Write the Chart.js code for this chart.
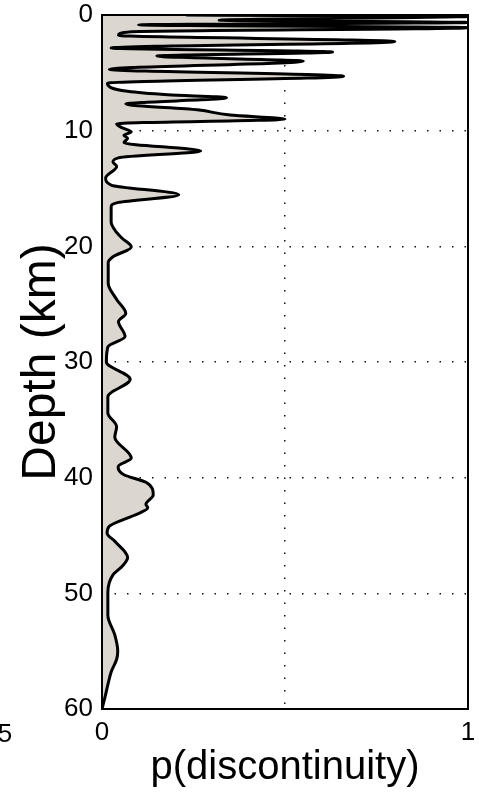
<!DOCTYPE html>
<html>
<head>
<meta charset="utf-8">
<script src="https://cdn.jsdelivr.net/npm/chart.js@4/dist/chart.umd.min.js"></script>
<style>
  html, body { margin: 0; padding: 0; background: #fff; }
  canvas { display: block; }
</style>
</head>
<body>
<canvas id="profile" width="479" height="797"></canvas>
<script>
// depth (km) down the profile, and probability of a discontinuity at each depth
const depthKm = [
  0, 0.12, 0.45, 0.65, 0.85, 1.1, 1.45, 1.75, 2.3, 2.85,
  3.2, 3.55, 4.0, 4.7, 5.3, 5.9, 6.6, 6.9, 7.15, 7.7,
  8.2, 8.65, 9.0, 9.4, 9.75, 10.1, 10.4, 10.65, 11.05, 11.75,
  12.35, 12.7, 13.1, 14.1, 14.7, 15.55, 16.2, 16.6, 17.9, 18.8,
  19.3, 20.05, 20.9, 21.4, 23.2, 24.6, 25.8, 26.5, 27.8, 28.7,
  30.0, 31.5, 33.0, 34.4, 35.6, 36.5, 38.3, 39.05, 39.75, 40.4,
  41.5, 42.3, 42.6, 43.1, 43.6, 44.2, 44.8, 45.5, 46.9, 47.6,
  48.4, 49.9, 51.9, 53.6, 55.0, 55.7, 56.8, 57.9, 59.0, 60
];
const pDisc = [
  0.23, 1.0, 0.32, 1.0, 0.10, 1.0, 0.08, 0.045, 0.80, 0.025,
  0.63, 0.15, 0.55, 0.02, 0.66, 0.015, 0.07, 0.18, 0.34, 0.065,
  0.26, 0.35, 0.50, 0.04, 0.055, 0.08, 0.06, 0.07, 0.06, 0.27,
  0.045, 0.03, 0.04, 0.01, 0.025, 0.21, 0.045, 0.025, 0.025, 0.04,
  0.055, 0.08, 0.03, 0.017, 0.017, 0.04, 0.065, 0.045, 0.063, 0.016,
  0.012, 0.077, 0.016, 0.016, 0.04, 0.035, 0.08, 0.044, 0.06, 0.12,
  0.14, 0.12, 0.125, 0.10, 0.06, 0.02, 0.014, 0.035, 0.07, 0.057,
  0.03, 0.016, 0.016, 0.035, 0.043, 0.04, 0.025, 0.016, 0.008, 0
];
const depthTicks = [0, 10, 20, 30, 40, 50, 60];
const pTicks = [0, 0.5, 1];
const pTickLabels = { 0: "0", 1: "1" };

const FONT = "'Liberation Sans', Arial, Helvetica, sans-serif";

// box round the plot + the clipped "5" left over from the panel next door
const framePlugin = {
  id: "frame",
  afterDraw(chart) {
    const { ctx, chartArea: a } = chart;
    ctx.save();
    ctx.strokeStyle = "#000";
    ctx.lineWidth = 2;
    ctx.strokeRect(a.left, a.top, a.right - a.left, a.bottom - a.top);
    ctx.fillStyle = "#000";
    ctx.font = "26px " + FONT;
    ctx.textAlign = "center";
    ctx.textBaseline = "middle";
    ctx.fillText("5", 5, 735);
    ctx.restore();
  }
};

const ctx = document.getElementById("profile").getContext("2d");
new Chart(ctx, {
  type: "line",
  data: {
    datasets: [{
      data: depthKm.map((d, i) => ({ x: pDisc[i], y: d })),
      indexAxis: "y",
      borderColor: "#000",
      borderWidth: 3,
      backgroundColor: "rgb(219, 215, 208)",
      fill: "origin",
      pointRadius: 0,
      cubicInterpolationMode: "monotone"
    }]
  },
  options: {
    indexAxis: "y",
    responsive: false,
    animation: false,
    devicePixelRatio: 1,
    layout: { padding: { left: 0, right: 11, top: 15, bottom: 0 } },
    plugins: { legend: { display: false }, tooltip: { enabled: false } },
    scales: {
      x: {
        type: "linear",
        position: "bottom",
        min: 0,
        max: 1,
        afterBuildTicks: s => { s.ticks = pTicks.map(v => ({ value: v })); },
        afterFit: s => { s.height = 88; s.paddingLeft = 0; s.paddingRight = 0; },
        border: { display: false, dash: [1.5, 11] },
        grid: {
          drawTicks: false,
          color: c => (c.tick && c.tick.value === 0.5 ? "#111" : "rgba(0,0,0,0)"),
          lineWidth: 1.5
        },
        ticks: {
          padding: 11,
          color: "#000",
          font: { family: FONT, size: 26, lineHeight: 1 },
          maxRotation: 0,
          callback: v => pTickLabels[v] || ""
        },
        title: {
          display: true,
          text: "p(discontinuity)",
          color: "#000",
          font: { family: FONT, size: 40, lineHeight: 1 },
          padding: { top: 0, bottom: 9 }
        }
      },
      y: {
        type: "linear",
        position: "left",
        reverse: true,
        min: 0,
        max: 60,
        afterBuildTicks: s => { s.ticks = depthTicks.map(v => ({ value: v })); },
        afterFit: s => { s.width = 102; s.paddingTop = 0; s.paddingBottom = 0; },
        border: { display: false, dash: [1.5, 11] },
        grid: {
          drawTicks: false,
          color: c => (c.tick && c.tick.value > 0 && c.tick.value < 60 ? "#111" : "rgba(0,0,0,0)"),
          lineWidth: 1.5
        },
        ticks: {
          padding: 9,
          color: "#000",
          font: { family: FONT, size: 26, lineHeight: 1 }
        },
        title: {
          display: true,
          text: "Depth (km)",
          color: "#000",
          font: { family: FONT, size: 48, lineHeight: 1 },
          padding: { top: 18, bottom: 0 }
        }
      }
    }
  },
  plugins: [framePlugin]
});
</script>
</body>
</html>
